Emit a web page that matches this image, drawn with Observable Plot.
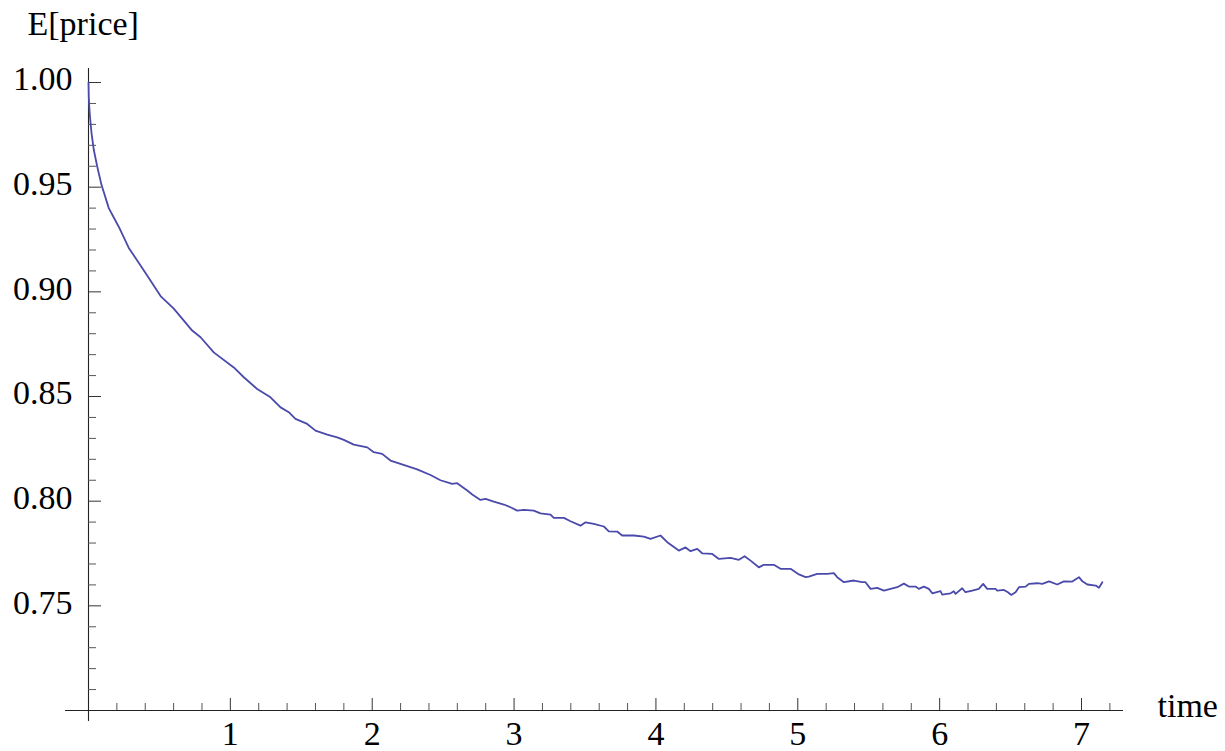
<!DOCTYPE html>
<html>
<head>
<meta charset="utf-8">
<script src="https://cdn.jsdelivr.net/npm/d3@7"></script>
<script src="https://cdn.jsdelivr.net/npm/@observablehq/plot@0.6"></script>
<style>
  html, body { margin: 0; padding: 0; background: #fff; }
  #chart svg { display: block; }
  #chart svg text { font-family: 'Liberation Serif', 'Times New Roman', serif; }
</style>
</head>
<body>
<div id="chart"></div>
<script>
// ---- data ----
const time = [0, 0.002, 0.005, 0.010, 0.021, 0.037, 0.061, 0.092, 0.143, 0.214, 0.284, 0.402, 0.508, 0.601, 0.731, 0.790, 0.883,
  1.024, 1.095, 1.189, 1.283, 1.354, 1.412, 1.459, 1.542, 1.600, 1.683, 1.753, 1.800, 1.870, 1.965,
  2.011, 2.070, 2.129, 2.199, 2.317, 2.411, 2.481, 2.564, 2.599, 2.670, 2.705, 2.763, 2.799, 2.857, 2.928, 2.975,
  3.022, 3.069, 3.139, 3.186, 3.257, 3.280, 3.351, 3.398, 3.468, 3.504, 3.562, 3.633, 3.668, 3.727, 3.762, 3.844, 3.915, 3.962,
  4.032, 4.080, 4.161, 4.209, 4.244, 4.291, 4.326, 4.397, 4.444, 4.526, 4.585, 4.625, 4.667, 4.725, 4.760, 4.831, 4.878, 4.949,
  5.008, 5.055, 5.078, 5.137, 5.208, 5.254, 5.278, 5.325, 5.395, 5.454, 5.477, 5.513, 5.560, 5.607, 5.654, 5.701, 5.748, 5.783, 5.830, 5.853, 5.889, 5.924, 5.948,
  6.006, 6.018, 6.077, 6.100, 6.112, 6.159, 6.182, 6.230, 6.276, 6.307, 6.335, 6.394, 6.406, 6.453, 6.481, 6.505, 6.535, 6.559, 6.606, 6.629, 6.688, 6.724, 6.771, 6.829, 6.876, 6.935, 6.982,
  7.006, 7.041, 7.100, 7.123, 7.147];
const price = [1.000, 0.993, 0.989, 0.984, 0.976, 0.968, 0.960, 0.951, 0.940, 0.931, 0.921, 0.909, 0.898, 0.892, 0.8815, 0.8783, 0.8711,
  0.8639, 0.8592, 0.8536, 0.8496, 0.8448, 0.8425, 0.8393, 0.8369, 0.8337, 0.8318, 0.8305, 0.8293, 0.8270, 0.8257,
  0.8234, 0.8226, 0.8194, 0.8178, 0.8152, 0.8125, 0.8100, 0.8083, 0.8086, 0.8051, 0.8032, 0.8006, 0.8011, 0.7998, 0.7984, 0.7971,
  0.7955, 0.7958, 0.7955, 0.7942, 0.7936, 0.7920, 0.7920, 0.7904, 0.7883, 0.7899, 0.7892, 0.7879, 0.7856, 0.7855, 0.7836, 0.7836, 0.7831, 0.7820,
  0.7836, 0.7804, 0.7764, 0.7779, 0.7761, 0.7772, 0.7751, 0.7748, 0.7724, 0.7729, 0.7720, 0.7737, 0.7716, 0.7684, 0.7696, 0.7696, 0.7677, 0.7677,
  0.7650, 0.7637, 0.7640, 0.7653, 0.7653, 0.7656, 0.7637, 0.7613, 0.7621, 0.7613, 0.7613, 0.7581, 0.7586, 0.7573, 0.7581, 0.7589, 0.7606, 0.7592, 0.7592, 0.7581, 0.7592, 0.7581, 0.7560,
  0.7570, 0.7554, 0.7560, 0.7570, 0.7557, 0.7584, 0.7565, 0.7573, 0.7581, 0.7605, 0.7581, 0.7581, 0.7573, 0.7576, 0.7565, 0.7552, 0.7565, 0.7589, 0.7592, 0.7605, 0.7608, 0.7605, 0.7617, 0.7602, 0.7617, 0.7616, 0.7637,
  0.7617, 0.7602, 0.7597, 0.7586, 0.7613];

const xMajorTicks = [1, 2, 3, 4, 5, 6, 7];
const xMinorTicks = [0.2, 0.4, 0.6, 0.8, 1.2, 1.4, 1.6, 1.8, 2.2, 2.4, 2.6, 2.8, 3.2, 3.4, 3.6, 3.8,
  4.2, 4.4, 4.6, 4.8, 5.2, 5.4, 5.6, 5.8, 6.2, 6.4, 6.6, 6.8, 7.2];
const yMajorTicks = [0.75, 0.80, 0.85, 0.90, 0.95, 1.00];
const yMinorTicks = [0.71, 0.72, 0.73, 0.74, 0.76, 0.77, 0.78, 0.79, 0.81, 0.82, 0.83, 0.84,
  0.86, 0.87, 0.88, 0.89, 0.91, 0.92, 0.93, 0.94, 0.96, 0.97, 0.98, 0.99];
const xLabel = "time";
const yLabel = "E[price]";

// ---- chart ----
const series = time.map((t, i) => ({t, p: price[i]}));
const font = "'Liberation Serif', 'Times New Roman', serif";
const xDomain = [0, 7.296];
const yDomain = [0.70, 1.0067];

const chart = Plot.plot({
  width: 1225,
  height: 751,
  marginLeft: 88,
  marginRight: 102,
  marginTop: 68,
  marginBottom: 41,
  style: {fontFamily: font, background: "#fff", color: "#000", overflow: "visible"},
  x: {domain: xDomain, label: null},
  y: {domain: yDomain, label: null},
  marks: [
    // axis lines (extend slightly past the origin, Mathematica style)
    Plot.ruleY([yDomain[0]], {x1: -0.162, x2: xDomain[1], stroke: "#222", strokeWidth: 1.1}),
    Plot.ruleX([xDomain[0]], {y1: 0.6947, y2: yDomain[1], stroke: "#222", strokeWidth: 1.1}),
    // ticks
    Plot.axisX({anchor: "bottom", ticks: xMinorTicks, tickSize: -7, text: null, stroke: "#555"}),
    Plot.axisX({anchor: "bottom", ticks: xMajorTicks, tickSize: -12, text: null, stroke: "#333"}),
    Plot.axisY({anchor: "left", ticks: yMinorTicks, tickSize: -8, text: null, stroke: "#555"}),
    Plot.axisY({anchor: "left", ticks: yMajorTicks, tickSize: -13, text: null, stroke: "#333"}),
    // tick labels
    Plot.axisX({anchor: "bottom", ticks: xMajorTicks, tickSize: 0, tickPadding: 10, fontSize: 34, fontFamily: font, fill: "#000", tickFormat: d3.format("d")}),
    Plot.axisY({anchor: "left", ticks: yMajorTicks, tickSize: 0, tickPadding: 16, fontSize: 34, fontFamily: font, fill: "#000", dy: -3, tickFormat: d3.format(".2f")}),
    // axis labels
    Plot.text([xLabel], {x: xDomain[1], y: yDomain[0], text: d => d, dx: 34, dy: -4, textAnchor: "start", fontSize: 34, fontFamily: font, fill: "#000"}),
    Plot.text([yLabel], {x: -0.162, y: yDomain[1], text: d => d, dx: -38, dy: -34, textAnchor: "start", lineAnchor: "bottom", fontSize: 34, fontFamily: font, fill: "#000"}),
    // data
    Plot.line(series, {x: "t", y: "p", stroke: "#4a4aab", strokeWidth: 1.8, clip: false})
  ]
});
document.getElementById("chart").appendChild(chart);
</script>
</body>
</html>
